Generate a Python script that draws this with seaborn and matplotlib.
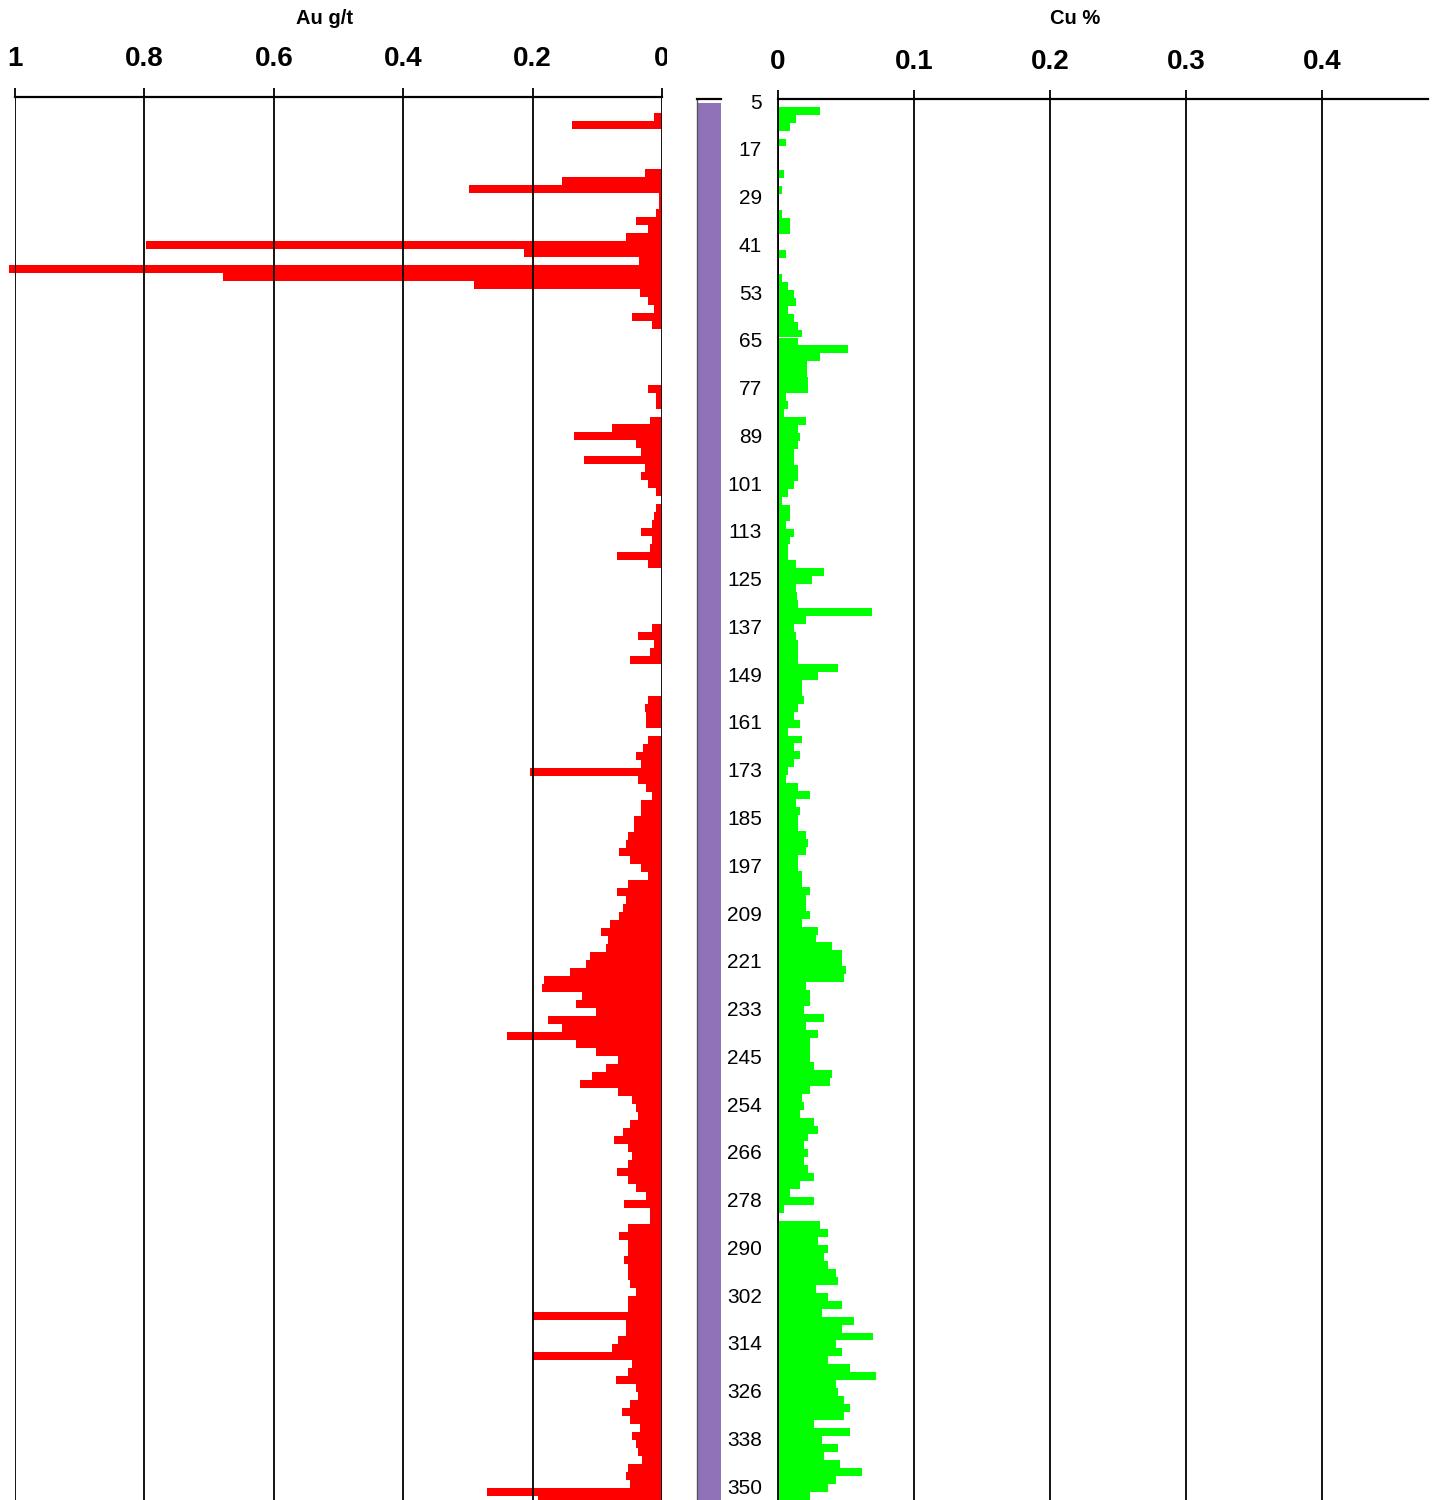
"""
Drill hole assay log: Au g/t (left, reversed) and Cu % (right)
with a lithology strip and sample depth labels in between.
"""

import matplotlib.pyplot as plt
import seaborn as sns
import numpy as np
import pandas as pd
from matplotlib.transforms import Bbox

plt.switch_backend('Agg')

# assay values, one per sample interval (top of hole first)
AU_GRADE = [
    0, 0, 0.012, 0.139, 0, 0, 0, 0, 0, 0.027,
    0.154, 0.299, 0.005, 0.005, 0.009, 0.040, 0.021, 0.055, 0.798, 0.213,
    0.036, 1.01, 0.679, 0.290, 0.034, 0.021, 0.012, 0.046, 0.015, 0,
    0, 0, 0, 0, 0, 0, 0.022, 0.009, 0.009, 0,
    0.018, 0.077, 0.136, 0.040, 0.033, 0.120, 0.027, 0.033, 0.021, 0.009,
    0, 0.009, 0.012, 0.015, 0.033, 0.015, 0.018, 0.070, 0.021, 0,
    0, 0, 0, 0, 0, 0, 0.015, 0.037, 0.012, 0.018,
    0.049, 0, 0, 0, 0, 0.021, 0.027, 0.024, 0.024, 0,
    0.021, 0.030, 0.040, 0.033, 0.204, 0.037, 0.024, 0.015, 0.033, 0.033,
    0.043, 0.043, 0.052, 0.055, 0.067, 0.049, 0.033, 0.022, 0.052, 0.070,
    0.055, 0.061, 0.067, 0.080, 0.095, 0.083, 0.086, 0.111, 0.117, 0.142,
    0.182, 0.185, 0.124, 0.133, 0.102, 0.176, 0.154, 0.240, 0.133, 0.102,
    0.068, 0.086, 0.108, 0.126, 0.068, 0.046, 0.040, 0.037, 0.049, 0.061,
    0.074, 0.052, 0.046, 0.052, 0.070, 0.052, 0.040, 0.024, 0.058, 0.018,
    0.018, 0.052, 0.067, 0.052, 0.052, 0.058, 0.052, 0.052, 0.049, 0.040,
    0.052, 0.052, 0.200, 0.056, 0.056, 0.068, 0.077, 0.200, 0.047, 0.053,
    0.071, 0.040, 0.037, 0.050, 0.062, 0.050, 0.034, 0.047, 0.040, 0.037,
    0.031, 0.053, 0.056, 0.050, 0.271, 0.191,
]

CU_GRADE = [
    0, 0.031, 0.0135, 0.009, 0, 0.006, 0, 0, 0, 0.0044,
    0, 0.003, 0, 0, 0.003, 0.009, 0.009, 0, 0, 0.006,
    0, 0, 0.003, 0.0076, 0.0118, 0.0135, 0.0076, 0.0118, 0.015, 0.0176,
    0.015, 0.0515, 0.031, 0.021, 0.021, 0.022, 0.022, 0.006, 0.0074, 0.0044,
    0.0206, 0.0147, 0.016, 0.0147, 0.0118, 0.0118, 0.0147, 0.0147, 0.0118, 0.0074,
    0.003, 0.0088, 0.0088, 0.006, 0.0118, 0.0088, 0.0074, 0.0074, 0.013, 0.034,
    0.025, 0.013, 0.014, 0.0147, 0.069, 0.0206, 0.0118, 0.013, 0.0147, 0.0147,
    0.0147, 0.044, 0.0294, 0.0176, 0.0176, 0.019, 0.0147, 0.0118, 0.016, 0.0074,
    0.0176, 0.0118, 0.016, 0.0118, 0.0074, 0.006, 0.0147, 0.0235, 0.013, 0.016,
    0.0147, 0.0147, 0.0206, 0.022, 0.0206, 0.0147, 0.0147, 0.0176, 0.0176, 0.0235,
    0.0206, 0.0206, 0.0235, 0.0176, 0.0294, 0.028, 0.0397, 0.047, 0.047, 0.050,
    0.0485, 0.0206, 0.0235, 0.0235, 0.019, 0.034, 0.0206, 0.0294, 0.0235, 0.0235,
    0.0235, 0.0265, 0.0397, 0.038, 0.0235, 0.0176, 0.019, 0.016, 0.0265, 0.0294,
    0.022, 0.019, 0.022, 0.019, 0.022, 0.0265, 0.016, 0.0088, 0.0265, 0.0044,
    0, 0.031, 0.0368, 0.0294, 0.0368, 0.034, 0.0368, 0.0426, 0.044, 0.028,
    0.0368, 0.047, 0.0324, 0.0559, 0.047, 0.070, 0.0426, 0.047, 0.0368, 0.053,
    0.072, 0.0426, 0.044, 0.0485, 0.053, 0.0485, 0.0265, 0.053, 0.0324, 0.044,
    0.034, 0.0456, 0.062, 0.0426, 0.0368, 0.0235,
]

# every sixth sample is labelled with its depth (m)
DEPTH_LABELS = ['5', '17', '29', '41', '53', '65', '77', '89', '101', '113',
                '125', '137', '149', '161', '173', '185', '197', '209', '221', '233',
                '245', '254', '266', '278', '290', '302', '314', '326', '338', '350']
LABEL_STEP = 6

# lithology unit, as sample indices (one unit over the logged interval)
LITH_TOP = [0]
LITH_BASE = [180]

AU_TICKS = [1, 0.8, 0.6, 0.4, 0.2, 0]
AU_TICK_LABELS = ['1', '0.8', '0.6', '0.4', '0.2', '0']
CU_TICKS = [0, 0.1, 0.2, 0.3, 0.4]
CU_TICK_LABELS = ['0', '0.1', '0.2', '0.3', '0.4']

W, H = 1434, 1500
BOLD_FONT = ['Liberation Sans Narrow', 'Liberation Sans', 'DejaVu Sans']


def px_axes(fig, x0, y0, x1, y1):
    """Add axes from pixel box (origin top-left)."""
    return fig.add_axes([x0 / W, 1 - y1 / H, (x1 - x0) / W, (y1 - y0) / H])


def style_top_axis(ax, ticks, labels, pad):
    """Top value axis with black grid, no other spines."""
    ax.set_xticks(ticks)
    ax.set_xticklabels(labels, family=BOLD_FONT, fontweight='bold', fontsize=20,
                       color='black')
    ax.xaxis.set_ticks_position('top')
    ax.xaxis.set_label_position('top')
    ax.tick_params(axis='x', top=True, bottom=False, labeltop=True, labelbottom=False,
                   direction='out', length=6.8, width=1.3, color='black', pad=pad)
    ax.set_xlabel('')
    ax.set_ylabel('')
    ax.grid(axis='x', color='black', linewidth=1.3)
    ax.grid(axis='y', visible=False)
    ax.set_axisbelow(False)
    for side in ['bottom', 'right', 'left']:
        ax.spines[side].set_visible(False)
    ax.spines['top'].set_color('black')
    ax.spines['top'].set_linewidth(1.6)
    ax.set_facecolor('none')


sns.set_theme(style='white')
plt.rcParams['font.family'] = ['Liberation Sans', 'DejaVu Sans']
plt.rcParams['text.color'] = 'black'
plt.rcParams['xtick.color'] = 'black'
plt.rcParams['ytick.color'] = 'black'

fig = plt.figure(figsize=(W / 100, H / 100), dpi=100)

# --- Au panel (reversed axis, bars grow to the left)
ax_au = px_axes(fig, 15, 96.7, 662, 1500)
df_au = pd.DataFrame({'sample': np.arange(len(AU_GRADE)), 'au': AU_GRADE})
sns.barplot(data=df_au, x='au', y='sample', orient='h', native_scale=True,
            color='#ff0000', saturation=1, width=1.0, linewidth=0,
            errorbar=None, ax=ax_au)
for bar in ax_au.patches:
    bar.set_clip_on(False)
ax_au.set_xlim(1.0, 0)
ax_au.set_ylim((1500 - 96.7) / 7.995 - 0.5, -0.5)
ax_au.set_yticks([])
style_top_axis(ax_au, AU_TICKS, AU_TICK_LABELS, pad=11)
# the "0" label is cut by the neighbouring panel
zero_label = ax_au.xaxis.get_major_ticks()[-1].label2
zero_label.set_clip_box(Bbox([[0, 0], [667, H]]))
zero_label.set_clip_on(True)

# --- lithology strip
ax_lith = px_axes(fig, 697, 98.7, 721, 1500)
ax_lith.bar([0.5] * len(LITH_TOP), np.subtract(LITH_BASE, LITH_TOP), width=1.0,
            bottom=LITH_TOP, color='#9072b9', linewidth=0)
ax_lith.set_xlim(0, 1)
ax_lith.set_ylim((1500 - 98.7) / 7.96 - 0.5, -0.5)
ax_lith.set_xticks([])
ax_lith.set_yticks([])
for side in ['bottom', 'right']:
    ax_lith.spines[side].set_visible(False)
ax_lith.spines['top'].set_color('black')
ax_lith.spines['top'].set_linewidth(1.6)
ax_lith.spines['left'].set_color('#555555')
ax_lith.spines['left'].set_linewidth(1.0)

# --- Cu panel
ax_cu = px_axes(fig, 778, 98.7, 1428, 1500)
df_cu = pd.DataFrame({'sample': np.arange(len(CU_GRADE)), 'cu': CU_GRADE})
sns.barplot(data=df_cu, x='cu', y='sample', orient='h', native_scale=True,
            color='#00ff00', saturation=1, width=1.0, linewidth=0,
            errorbar=None, ax=ax_cu)
ax_cu.set_xlim(0, 0.478)
ax_cu.set_ylim((1500 - 98.7) / 7.96 - 0.5, -0.5)
style_top_axis(ax_cu, CU_TICKS, CU_TICK_LABELS, pad=10.5)
ax_cu.spines['left'].set_visible(True)
ax_cu.spines['left'].set_color('black')
ax_cu.spines['left'].set_linewidth(1.3)
ax_cu.set_yticks(np.arange(len(DEPTH_LABELS)) * LABEL_STEP - 0.2)
ax_cu.set_yticklabels(DEPTH_LABELS, fontsize=15, color='black')
ax_cu.tick_params(axis='y', left=True, length=0, pad=11.5, colors='black')

# --- panel titles
fig.text(325 / W, 1 - 19 / H, 'Au g/t', ha='center', va='center',
         family=BOLD_FONT, fontweight='bold', fontsize=14.5, color='black')
fig.text(1075 / W, 1 - 19 / H, 'Cu %', ha='center', va='center',
         family=BOLD_FONT, fontweight='bold', fontsize=14.5, color='black')

fig.savefig('out.png', dpi=100)
plt.close(fig)
